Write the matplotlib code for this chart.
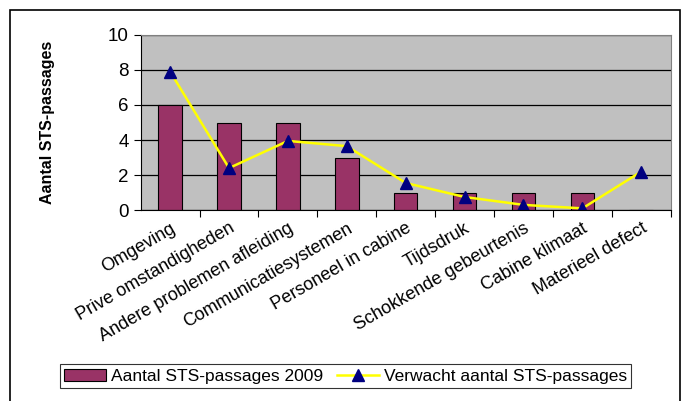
import numpy as np
import matplotlib.pyplot as plt

plt.rcParams['font.family'] = ['Liberation Sans', 'DejaVu Sans']

categories = ["Omgeving", "Prive omstandigheden", "Andere problemen afleiding",
              "Communicatiesystemen", "Personeel in cabine", "Tijdsdruk",
              "Schokkende gebeurtenis", "Cabine klimaat", "Materieel defect"]
actual_2009 = [6, 5, 5, 3, 1, 1, 1, 1, 0]
expected = [7.9, 2.4, 3.95, 3.65, 1.55, 0.75, 0.3, 0.1, 2.2]

fig = plt.figure(figsize=(6.83, 4.01), dpi=100)
ax = fig.add_axes([0.206, 0.476, 0.776, 0.437])

x = np.arange(len(categories))
ax.set_facecolor("#C0C0C0")
ax.set_axisbelow(True)
ax.yaxis.grid(True, color="black", lw=0.9)
bars = ax.bar(x, actual_2009, width=0.4, color="#993366", edgecolor="black", lw=0.8,
              label="Aantal STS-passages 2009")
line, = ax.plot(x, expected, color="#FFFF00", lw=1.8, marker="^", ms=9,
                mfc="#000080", mec="#000080", label="Verwacht aantal STS-passages")

ax.set_xlim(-0.5, len(categories) - 0.5)
ax.set_ylim(0, 10)
ax.set_yticks([0, 2, 4, 6, 8, 10])
ax.set_xticks(x + 0.5, minor=False)
ax.set_xticklabels([])
ax.set_xticks(x, minor=True)
ax.set_xticklabels(categories, minor=True, rotation=30, ha="right",
                   rotation_mode="anchor", fontsize=13)
ax.tick_params(axis="x", which="minor", length=0, pad=7)
ax.tick_params(axis="x", which="major", length=5, color="black")
ax.tick_params(axis="y", labelsize=13.5, length=5)
for s in ["top", "right"]:
    ax.spines[s].set_color("#808080")
ax.set_ylabel("Aantal STS-passages", fontsize=11.5, fontweight="bold", labelpad=38)

leg = fig.legend([bars, line], [bars.get_label(), line.get_label()],
                 loc="lower center", bbox_to_anchor=(0.506, 0.01), ncol=2,
                 fontsize=12.5, frameon=True, fancybox=False, edgecolor="black",
                 handlelength=2.4, columnspacing=0.8, handletextpad=0.3,
                 borderpad=0.25)
leg.get_frame().set_linewidth(0.8)

fig.patches.append(plt.Rectangle((0.015, -0.01), 0.98, 0.985, transform=fig.transFigure,
                                 fill=False, edgecolor="black", lw=1.2))

fig.savefig("out.png", dpi=100)
